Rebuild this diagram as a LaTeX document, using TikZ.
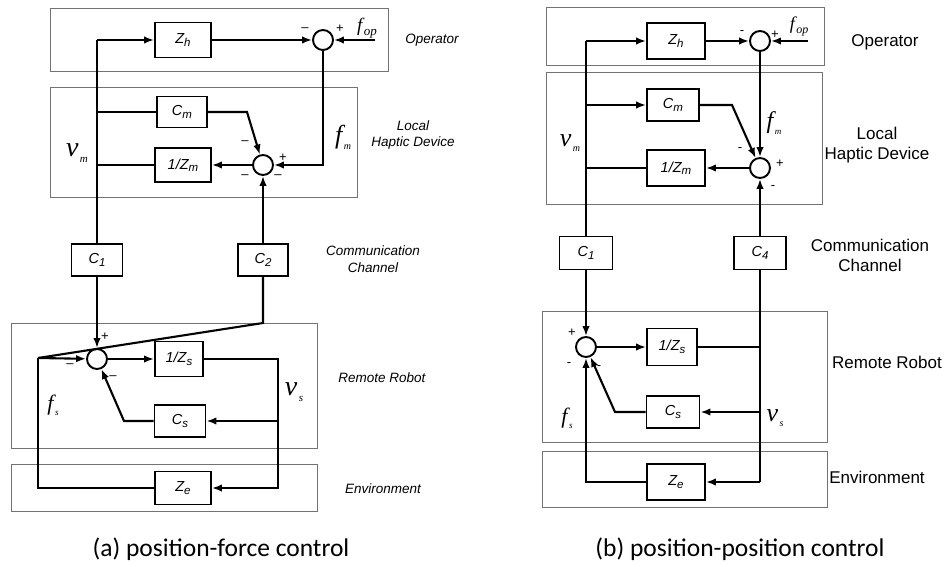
\documentclass[tikz,border=0pt]{standalone}
\usepackage{fontspec}
\setmainfont{Liberation Sans}
\newfontfamily\capfont{Carlito}
\newfontfamily\lblfont{Liberation Serif}
\usetikzlibrary{arrows.meta, positioning, calc}

% block text: letter with a lowered, slightly smaller index
\newcommand{\bl}[2]{\textit{#1\raisebox{-2.5pt}{\fontsize{11.5}{11.5}\selectfont#2}}}
% signal name: size, letter, index size, index
\newcommand{\sig}[4]{{\lblfont\itshape\fontsize{#1}{#1}\selectfont#2\hspace{1.5pt}\raisebox{-0.22em}{\fontsize{#3}{#3}\selectfont#4}}}

\begin{document}
\begin{tikzpicture}[x=1pt, y=-1pt,
  blk/.style={rectangle, draw, line width=1.9pt, inner sep=0pt, font=\fontsize{14.5}{16}\selectfont},
  sum/.style={circle, draw, line width=1.9pt, minimum size=20pt, inner sep=0pt},
  arr/.style={-{Latex[length=10pt,width=7.5pt]}, line width=2.1pt},
  ln/.style={line width=2.1pt},
  frame/.style={draw=black!55, line width=1pt},
  lbl/.style={font=\fontsize{13.5}{16.5}\selectfont\itshape, align=center},
  lblb/.style={font=\fontsize{17}{20}\selectfont, align=center},
  sgn/.style={font=\fontsize{13}{13}\selectfont, inner sep=0pt},
  caption/.style={font=\capfont\fontsize{25.5}{25.5}\selectfont},
]
\useasboundingbox (0,0) rectangle (945,567);

% (a) position-force control
\draw[frame] (50,9) rectangle (388,72);
\draw[frame] (50,88) rectangle (357,197);
\draw[frame] (11,323) rectangle (317,448);
\draw[frame] (11,464) rectangle (317,511);

\node[blk, minimum width=56, minimum height=35] (zhA)  at (183,40)  {\bl{Z}{h}};
\node[sum]                                      (s1A)  at (323,40)  {};
\node[blk, minimum width=50, minimum height=31] (cmA)  at (182,112) {\bl{C}{m}};
\node[sum]                                      (s2A)  at (263,165) {};
\node[blk, minimum width=56, minimum height=34] (izmA) at (183,165) {\bl{1/Z}{m}};
\node[blk, minimum width=51, minimum height=32] (c1A)  at (97,260)  {\bl{C}{1}};
\node[blk, minimum width=50, minimum height=32] (c2A)  at (263,260) {\bl{C}{2}};
\node[sum]                                      (s3A)  at (97,359)  {};
\node[blk, minimum width=48, minimum height=35] (izsA) at (179,359) {\bl{1/Z}{s}};
\node[blk, minimum width=51, minimum height=32] (csA)  at (180,421) {\bl{C}{s}};
\node[blk, minimum width=56, minimum height=33] (zeA)  at (183,488) {\bl{Z}{e}};

\coordinate (vmA)  at (97,40);
\coordinate (b1A)  at (97,112);
\coordinate (b2A)  at (97,165);
\coordinate (fopA) at (375,40);
\coordinate (cmkA) at (247,112);
\coordinate (c2kA) at (263,323);
\coordinate (fsA)  at (38,358);
\coordinate (vcA)  at (278,421);
\coordinate (vbA)  at (278,488);
\coordinate (cskA) at (124,421);

\draw[arr] (vmA) -- (zhA);
\draw[ln]  (vmA) -- (c1A);
\draw[arr] (zhA) -- (s1A);
\draw[arr] (fopA) -- (s1A);
\draw[arr] (s1A) |- (s2A);
\draw[ln]  (b1A) -- (cmA);
\draw[arr] (cmA) -- (cmkA) -- (s2A);
\draw[arr] (s2A) -- (izmA);
\draw[ln]  (izmA) -- (b2A);
\draw[arr] (c2A) -- (s2A);
\draw[arr] (c1A) -- (s3A);
\draw[ln]  (c2A) -- (c2kA) -- (fsA);
\draw[arr] (fsA) -- (s3A);
\draw[ln]  (zeA) -| (fsA);
\draw[arr] (s3A) -- (izsA);
\draw[arr] (izsA) -| (vbA) -- (zeA);
\draw[arr] (vcA) -- (csA);
\draw[arr] (csA) -- (cskA) -- (s3A);

\node[sgn] (m1A) at (305,30)  {\textendash};
\node[sgn] (p1A) at (340,29)  {+};
\node[sgn] (m2A) at (245,143) {\textendash};
\node[sgn] (p2A) at (283,158) {+};
\node[sgn] (m3A) at (245,177) {\textendash};
\node[sgn] (m4A) at (278,177) {\textendash};
\node[sgn] (p3A) at (105,337) {+};
\node[sgn] (m5A) at (70,366)  {\textendash};
\node[sgn] (m6A) at (113,378) {\textendash};

\node (lfopA) at (367,28)  {\sig{19}{f}{13}{op}};
\node (lfmA)  at (343,137) {\sig{26}{f}{10}{m}};
\node (lvmA)  at (77,153)  {\sig{28}{v}{11}{m}};
\node (lfsA)  at (53,405)  {\sig{22}{f}{9}{s}};
\node (lvsA)  at (294,392) {\sig{28}{v}{11}{s}};

\node[lbl] (opA) at (432,40)  {Operator};
\node[lbl] (lhA) at (413,135) {Local\\Haptic Device};
\node[lbl] (ccA) at (373,259) {Communication\\Channel};
\node[lbl] (rrA) at (382,378) {Remote Robot};
\node[lbl] (evA) at (383,489) {Environment};

% (b) position-position control
\draw[frame] (546,8) rectangle (824,66);
\draw[frame] (546,73) rectangle (822,204);
\draw[frame] (542,311) rectangle (827,442);
\draw[frame] (542,451) rectangle (827,507);

\node[blk, minimum width=58, minimum height=36] (zhB)  at (676,41)  {\bl{Z}{h}};
\node[sum]                                      (s1B)  at (760,41)  {};
\node[blk, minimum width=52, minimum height=32] (cmB)  at (673,105) {\bl{C}{m}};
\node[sum]                                      (s2B)  at (760,168) {};
\node[blk, minimum width=58, minimum height=36] (izmB) at (676,168) {\bl{1/Z}{m}};
\node[blk, minimum width=53, minimum height=33] (c1B)  at (586,253) {\bl{C}{1}};
\node[blk, minimum width=52, minimum height=33] (c4B)  at (760,253) {\bl{C}{4}};
\node[sum]                                      (s3B)  at (586,347) {};
\node[blk, minimum width=50, minimum height=37] (izsB) at (672,347) {\bl{1/Z}{s}};
\node[blk, minimum width=53, minimum height=32] (csB)  at (673,412) {\bl{C}{s}};
\node[blk, minimum width=58, minimum height=36] (zeB)  at (676,482) {\bl{Z}{e}};

\coordinate (vmB)  at (586,41);
\coordinate (b1B)  at (586,105);
\coordinate (b2B)  at (586,168);
\coordinate (fopB) at (808,41);
\coordinate (cmkB) at (732,105);
\coordinate (vrB)  at (760,347);
\coordinate (vcB)  at (760,412);
\coordinate (vbB)  at (760,482);
\coordinate (cskB) at (615,412);

\draw[arr] (vmB) -- (zhB);
\draw[ln]  (vmB) -- (c1B);
\draw[arr] (zhB) -- (s1B);
\draw[arr] (fopB) -- (s1B);
\draw[arr] (s1B) -- (s2B);
\draw[arr] (b1B) -- (cmB);
\draw[arr] (cmB) -- (cmkB) -- (s2B);
\draw[arr] (s2B) -- (izmB);
\draw[ln]  (izmB) -- (b2B);
\draw[arr] (c4B) -- (s2B);
\draw[arr] (c1B) -- (s3B);
\draw[arr] (s3B) -- (izsB);
\draw[ln]  (izsB) -- (vrB);
\draw[ln]  (c4B) -- (vbB);
\draw[arr] (vcB) -- (csB);
\draw[arr] (vbB) -- (zeB);
\draw[arr] (csB) -- (cskB) -- (s3B);
\draw[arr] (zeB) -| (s3B);

\node[sgn] (m1B) at (742,33)  {-};
\node[sgn] (p1B) at (775,35)  {+};
\node[sgn] (m2B) at (740,150) {-};
\node[sgn] (p2B) at (780,164) {+};
\node[sgn] (m3B) at (773,188) {-};
\node[sgn] (p3B) at (572,333) {+};
\node[sgn] (m4B) at (569,365) {-};
\node[sgn] (m5B) at (599,368) {-};

\node (lfopB) at (799,26)  {\sig{18}{f}{12}{op}};
\node (lfmB)  at (774,123) {\sig{24}{f}{9}{m}};
\node (lvmB)  at (570,143) {\sig{26}{v}{10}{m}};
\node (lfsB)  at (567,418) {\sig{22}{f}{9}{s}};
\node (lvsB)  at (775,418) {\sig{26}{v}{10}{s}};

\node[lblb] (opB) at (885,42)  {Operator};
\node[lblb] (lhB) at (877,145) {Local\\Haptic Device};
\node[lblb] (ccB) at (870,255) {Communication\\Channel};
\node[lblb] (rrB) at (887,362) {Remote Robot};
\node[lblb] (evB) at (877,477) {Environment};

% captions
\node[caption] (capA) at (221,549) {(a) position-force control};
\node[caption] (capB) at (740,549) {(b) position-position control};
\end{tikzpicture}
\end{document}
